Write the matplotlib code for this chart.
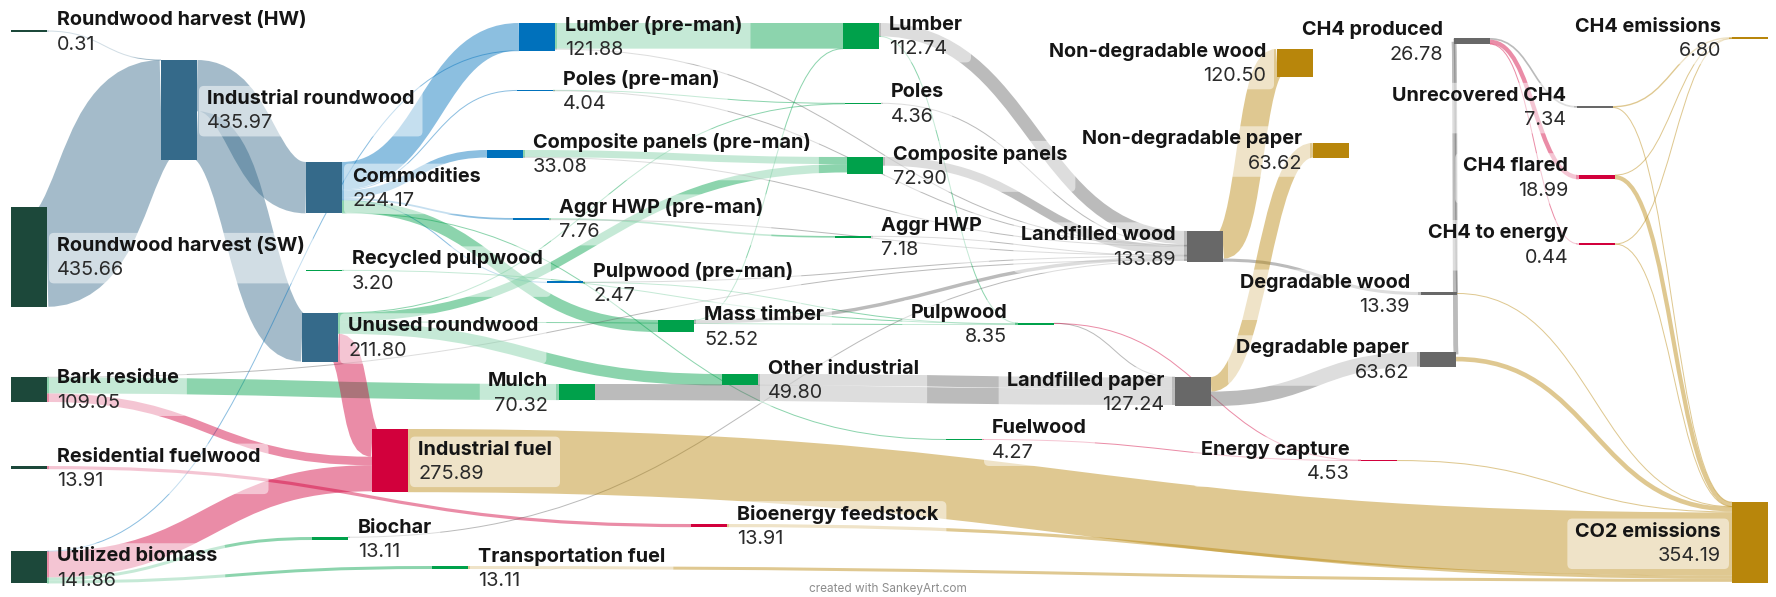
import matplotlib
matplotlib.use("Agg")
import matplotlib.pyplot as plt
from matplotlib.path import Path
from matplotlib.patches import PathPatch, Rectangle, FancyBboxPatch
from collections import defaultdict

W, H, DPI = 1776, 597, 100
SCALE = 0.229      # pixels per unit of flow
NODE_W = 36
FONT = ["Inter", "DejaVu Sans"]

# ---- data -------------------------------------------------------------
node_names = [
    "Roundwood harvest (HW)", "Roundwood harvest (SW)", "Bark residue",
    "Residential fuelwood", "Utilized biomass", "Industrial roundwood",
    "Commodities", "Recycled pulpwood", "Unused roundwood", "Industrial fuel",
    "Biochar", "Transportation fuel", "Lumber (pre-man)", "Poles (pre-man)",
    "Composite panels (pre-man)", "Aggr HWP (pre-man)", "Pulpwood (pre-man)",
    "Mulch", "Bioenergy feedstock", "Mass timber", "Other industrial",
    "Lumber", "Poles", "Composite panels", "Aggr HWP", "Pulpwood", "Fuelwood",
    "Energy capture", "Landfilled wood", "Landfilled paper",
    "Non-degradable wood", "Non-degradable paper", "Degradable wood",
    "Degradable paper", "CH4 produced", "Unrecovered CH4", "CH4 flared",
    "CH4 to energy", "CH4 emissions", "CO2 emissions",
]
node_values = [
    0.31, 435.66, 109.05, 13.91, 141.86, 435.97,
    224.17, 3.20, 211.80, 275.89,
    13.11, 13.11, 121.88, 4.04,
    33.08, 7.76, 2.47,
    70.32, 13.91, 52.52, 49.80,
    112.74, 4.36, 72.90, 7.18, 8.35, 4.27,
    4.53, 133.89, 127.24,
    120.50, 63.62, 13.39,
    63.62, 26.78, 7.34, 18.99,
    0.44, 6.80, 354.19,
]
node_groups = [
    "source", "source", "source", "source", "source", "roundwood",
    "roundwood", "product", "roundwood", "energy",
    "product", "product", "preman", "preman",
    "preman", "preman", "preman",
    "product", "energy", "product", "product",
    "product", "product", "product", "product", "product", "product",
    "energy", "landfill", "landfill",
    "emission", "emission", "landfill",
    "landfill", "landfill", "landfill", "energy",
    "energy", "emission", "emission",
]

flow_source = [
    "Roundwood harvest (HW)", "Roundwood harvest (SW)",
    "Industrial roundwood", "Industrial roundwood",
    "Commodities", "Commodities", "Commodities", "Commodities",
    "Commodities", "Commodities", "Commodities",
    "Utilized biomass", "Utilized biomass", "Utilized biomass", "Utilized biomass",
    "Bark residue", "Bark residue", "Bark residue",
    "Residential fuelwood",
    "Unused roundwood", "Unused roundwood", "Unused roundwood",
    "Unused roundwood", "Unused roundwood",
    "Recycled pulpwood",
    "Lumber (pre-man)", "Lumber (pre-man)",
    "Poles (pre-man)", "Poles (pre-man)",
    "Composite panels (pre-man)", "Composite panels (pre-man)",
    "Aggr HWP (pre-man)", "Aggr HWP (pre-man)",
    "Pulpwood (pre-man)", "Pulpwood (pre-man)",
    "Mass timber", "Mass timber",
    "Lumber", "Lumber", "Poles", "Composite panels", "Aggr HWP", "Biochar",
    "Mulch", "Other industrial", "Pulpwood", "Pulpwood", "Fuelwood",
    "Industrial fuel", "Bioenergy feedstock", "Transportation fuel",
    "Energy capture",
    "Landfilled wood", "Landfilled wood", "Landfilled paper", "Landfilled paper",
    "Degradable wood", "Degradable wood", "Degradable paper", "Degradable paper",
    "CH4 produced", "CH4 produced", "CH4 produced",
    "Unrecovered CH4", "Unrecovered CH4", "CH4 flared", "CH4 flared",
    "CH4 to energy", "CH4 to energy",
]
flow_target = [
    "Industrial roundwood", "Industrial roundwood",
    "Commodities", "Unused roundwood",
    "Lumber (pre-man)", "Poles (pre-man)", "Composite panels (pre-man)",
    "Aggr HWP (pre-man)", "Pulpwood (pre-man)", "Mass timber", "Fuelwood",
    "Lumber (pre-man)", "Industrial fuel", "Biochar", "Transportation fuel",
    "Mulch", "Industrial fuel", "Landfilled wood",
    "Bioenergy feedstock",
    "Industrial fuel", "Composite panels", "Other industrial",
    "Pulpwood", "Poles",
    "Pulpwood",
    "Lumber", "Landfilled wood",
    "Poles", "Landfilled wood",
    "Composite panels", "Landfilled wood",
    "Aggr HWP", "Landfilled wood",
    "Pulpwood", "Landfilled wood",
    "Lumber", "Landfilled wood",
    "Landfilled wood", "Pulpwood", "Landfilled wood", "Landfilled wood",
    "Landfilled wood", "Landfilled wood",
    "Landfilled paper", "Landfilled paper", "Landfilled paper",
    "Energy capture", "Energy capture",
    "CO2 emissions", "CO2 emissions", "CO2 emissions",
    "CO2 emissions",
    "Non-degradable wood", "Degradable wood", "Non-degradable paper",
    "Degradable paper",
    "CH4 produced", "CO2 emissions", "CH4 produced", "CO2 emissions",
    "Unrecovered CH4", "CH4 flared", "CH4 to energy",
    "CH4 emissions", "CO2 emissions", "CH4 emissions", "CO2 emissions",
    "CH4 emissions", "CO2 emissions",
]
flow_value = [
    0.31, 435.66,
    224.17, 211.80,
    120.03, 4.04, 33.08, 7.76,
    2.47, 52.52, 4.27,
    1.85, 113.79, 13.11, 13.11,
    70.32, 37.23, 1.50,
    13.91,
    121.00, 36.46, 49.80,
    3.18, 1.36,
    3.20,
    112.04, 4.00,
    3.00, 1.04,
    31.00, 2.08,
    7.18, 0.58,
    0.97, 1.50,
    0.70, 15.00,
    58.00, 1.00, 2.50, 38.00, 3.00, 2.00,
    70.32, 49.80, 2.10, 0.26, 4.27,
    275.89, 13.91, 13.11,
    4.53,
    120.50, 13.39, 63.62, 63.62,
    5.80, 1.20, 20.98, 20.00,
    7.34, 18.99, 0.44,
    6.00, 1.34, 0.60, 18.39,
    0.20, 0.24,
]

# ---- layout (left edge, top edge in pixels) ----------------------------
node_x = [
    11, 11, 11, 11, 11, 161,
    306, 306, 302, 372,
    312, 432, 519, 517,
    487, 513, 547,
    559, 691, 658, 722,
    843, 845, 847, 835, 1018, 946,
    1361, 1187, 1175,
    1277, 1313, 1421,
    1420, 1454, 1577, 1579,
    1579, 1732, 1732,
]
node_y = [
    31, 207, 377, 466, 551, 60,
    162, 270, 313, 429,
    537, 566, 23, 90,
    150, 218, 282,
    384, 524, 320, 374,
    23, 103, 157, 236, 323, 439,
    460, 231, 377,
    49, 143, 292,
    352, 38, 106, 175,
    244, 37, 502,
]
left_labels = {"Mulch", "Pulpwood", "Energy capture", "Landfilled wood",
               "Landfilled paper", "Non-degradable wood", "Non-degradable paper",
               "Degradable wood", "Degradable paper", "CH4 produced",
               "Unrecovered CH4", "CH4 flared", "CH4 to energy",
               "CH4 emissions", "CO2 emissions"}

group_color = {
    "source": "#1c483a", "roundwood": "#356a8a", "preman": "#0071bc",
    "product": "#00a14b", "energy": "#d2003c", "landfill": "#686868",
    "emission": "#b8860b",
}

# ---- figure -----------------------------------------------------------
fig = plt.figure(figsize=(W / DPI, H / DPI), dpi=DPI)
ax = fig.add_axes([0, 0, 1, 1])
ax.set_xlim(0, W)
ax.set_ylim(H, 0)
ax.axis("off")

top = dict(zip(node_names, node_y))
left = dict(zip(node_names, node_x))
value = dict(zip(node_names, node_values))
color = {n: group_color[g] for n, g in zip(node_names, node_groups)}
center = {n: top[n] + value[n] * SCALE / 2 for n in node_names}

outs, ins = defaultdict(list), defaultdict(list)
for i, (s, t) in enumerate(zip(flow_source, flow_target)):
    outs[s].append(i)
    ins[t].append(i)

# stack the bands on each side of a node, ordered by the other end
y0, y1 = {}, {}
for n, idx in outs.items():
    idx.sort(key=lambda i: center[flow_target[i]])
    y = top[n]
    for i in idx:
        w = flow_value[i] * SCALE
        y0[i] = y + w / 2
        y += w
for n, idx in ins.items():
    idx.sort(key=lambda i: center[flow_source[i]])
    y = top[n]
    for i in idx:
        w = flow_value[i] * SCALE
        y1[i] = y + w / 2
        y += w

# links
for i, (s, t, v) in enumerate(zip(flow_source, flow_target, flow_value)):
    xa = left[s] + NODE_W
    xb = left[t]
    xm = (xa + xb) / 2
    path = Path([(xa, y0[i]), (xm, y0[i]), (xm, y1[i]), (xb, y1[i])],
                [Path.MOVETO, Path.CURVE4, Path.CURVE4, Path.CURVE4])
    lw = max(v * SCALE, 1.0) * 72 / DPI
    ax.add_patch(PathPatch(path, facecolor="none", edgecolor=color[t],
                           lw=lw, alpha=0.45, capstyle="butt", zorder=1))

# nodes
for n in node_names:
    h = value[n] * SCALE
    if h < 1.6:
        ax.add_patch(Rectangle((left[n], center[n] - 0.8), NODE_W, 1.6,
                               color=color[n], lw=0, zorder=3))
    else:
        ax.add_patch(Rectangle((left[n], top[n]), NODE_W, h,
                               color=color[n], lw=0, zorder=3))

# labels
labels = []
for n in node_names:
    c = center[n]
    if n in left_labels:
        x, ha = left[n] - 11, "right"
    else:
        x, ha = left[n] + NODE_W + 10, "left"
    t1 = ax.text(x, c - 11, n, ha=ha, va="center", fontsize=14.3,
                 fontweight="bold", family=FONT, color="#151515", zorder=5)
    t2 = ax.text(x, c + 13.5, f"{value[n]:.2f}", ha=ha, va="center",
                 fontsize=14.3, family=FONT, color="#2a2a2a", zorder=5)
    labels.append((t1, t2))

fig.canvas.draw()
r = fig.canvas.get_renderer()
inv = ax.transData.inverted()
for t1, t2 in labels:
    b1 = t1.get_window_extent(r)
    b2 = t2.get_window_extent(r)
    (xa, ya), (xb, yb) = inv.transform([(min(b1.x0, b2.x0), min(b1.y0, b2.y0)),
                                        (max(b1.x1, b2.x1), max(b1.y1, b2.y1))])
    xlo, xhi = min(xa, xb) - 8, max(xa, xb) + 8
    ylo, yhi = min(ya, yb) - 4, max(ya, yb) + 4
    ax.add_patch(FancyBboxPatch((xlo, ylo), xhi - xlo, yhi - ylo,
                                boxstyle="round,pad=0,rounding_size=5",
                                facecolor="white", edgecolor="none",
                                alpha=0.5, zorder=2))

ax.text(888, 589, "created with SankeyArt.com", ha="center", va="center",
        fontsize=8.5, family=FONT, color="#8c8c8c")

fig.savefig("out.png", dpi=DPI)
